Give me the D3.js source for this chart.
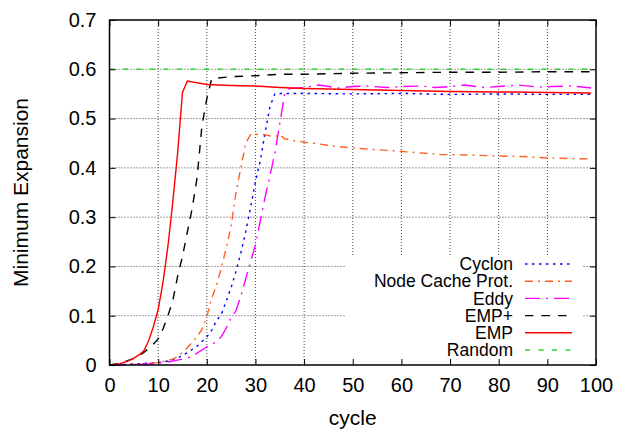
<!DOCTYPE html>
<html>
<head>
<meta charset="utf-8">
<script src="https://cdn.jsdelivr.net/npm/d3@7"></script>
<style>
  body { margin: 0; background: #fff; }
  text { font-family: "Liberation Sans", Arial, sans-serif; fill: #000; }
</style>
</head>
<body>
<div id="chart"></div>
<script>
/** Data: [cycle, minimum expansion] */
var cyclon = [[0,0],[5,0.002],[10,0.005],[12,0.008],[14,0.014],[16,0.025],[18,0.038],[20,0.057],[21,0.07],[22,0.09],[23,0.103],[24,0.13],[25,0.157],[26,0.19],[27,0.228],[28,0.27],[29,0.32],[30,0.372],[31,0.415],[32,0.472],[33,0.525],[34,0.55],[35,0.551],[40,0.551],[50,0.55],[60,0.551],[70,0.549],[80,0.55],[90,0.549],[99,0.549]];
var nodeCache = [[0,0],[4,0.001],[8,0.003],[10,0.005],[12,0.009],[13,0.012],[14,0.017],[15,0.025],[16,0.035],[17,0.046],[18,0.058],[19,0.072],[20,0.098],[21,0.135],[22,0.162],[23,0.197],[24,0.238],[25,0.282],[26,0.35],[27,0.4],[28,0.45],[29,0.468],[30,0.468],[32,0.467],[34,0.463],[35,0.468],[36,0.459],[38,0.455],[40,0.452],[42,0.45],[47,0.443],[53,0.438],[58,0.435],[63,0.431],[68,0.427],[74,0.426],[80,0.424],[85,0.423],[90,0.42],[99,0.418]];
var eddy = [[0,0],[5,0.001],[8,0.002],[12,0.006],[14,0.01],[16,0.014],[18,0.024],[20,0.037],[22,0.047],[23,0.058],[24,0.075],[25,0.096],[26,0.11],[27,0.14],[28,0.175],[29,0.21],[30,0.243],[31,0.293],[32,0.341],[33,0.385],[34,0.43],[35,0.49],[36,0.55],[37,0.561],[40,0.563],[43,0.568],[47,0.562],[50,0.565],[53,0.566],[57,0.563],[60,0.565],[64,0.566],[67,0.563],[70,0.565],[73,0.568],[77,0.563],[80,0.565],[84,0.568],[88,0.564],[91,0.565],[95,0.566],[99,0.562]];
var empPlus = [[0,0],[2,0.003],[4,0.01],[5,0.013],[6,0.018],[7,0.025],[8,0.033],[9,0.042],[10,0.053],[11,0.073],[12,0.1],[13,0.13],[14,0.18],[15,0.22],[16,0.27],[17,0.318],[18,0.38],[19,0.485],[20,0.54],[21,0.581],[25,0.585],[30,0.587],[35,0.59],[40,0.59],[50,0.592],[60,0.593],[70,0.594],[80,0.594],[90,0.595],[99,0.595]];
var emp = [[0,0],[2,0.002],[4,0.009],[5,0.014],[6,0.02],[7,0.028],[8,0.048],[9,0.077],[10,0.112],[11,0.168],[12,0.24],[13,0.33],[14,0.43],[15,0.553],[16,0.576],[20,0.569],[25,0.567],[30,0.566],[35,0.563],[40,0.561],[50,0.559],[60,0.557],[70,0.555],[80,0.554],[90,0.553],[99,0.552]];
var randomGraph = [[0,0.6],[99,0.6]];

var seriesNames = ["Cyclon", "Node Cache Prot.", "Eddy", "EMP+", "EMP", "Random"];
var seriesData = [cyclon, nodeCache, eddy, empPlus, emp, randomGraph];
var xTicks = [0, 10, 20, 30, 40, 50, 60, 70, 80, 90, 100];
var yTicks = [0, 0.1, 0.2, 0.3, 0.4, 0.5, 0.6, 0.7];

/** Styles, one per series */
var seriesColors = ["#0000ff", "#ff6020", "#ff00ff", "#000000", "#ff0000", "#2ddc2d"];
var seriesDashes = ["2.5,4.5", "8,5,2,5", "15,6,2,6", "8.5,8", null, "5,8.5"];

var W = 619, H = 432;
var plotLeft = 109.5, plotRight = 596, plotTop = 20, plotBottom = 365;

var svg = d3.select("#chart").append("svg")
  .attr("width", W)
  .attr("height", H);

var x = d3.scaleLinear().domain([0, 100]).range([plotLeft, plotRight]);
var y = d3.scaleLinear().domain([0, 0.7]).range([plotBottom, plotTop]);

/** Grid */
var grid = svg.append("g");
grid.selectAll(".gx").data(xTicks.slice(1, -1)).enter().append("line")
  .attr("x1", function(d){ return x(d); }).attr("x2", function(d){ return x(d); })
  .attr("y1", plotTop).attr("y2", plotBottom)
  .attr("stroke", "#444").attr("stroke-width", 1).attr("stroke-dasharray", "1,2");
grid.selectAll(".gy").data(yTicks.slice(1, -1)).enter().append("line")
  .attr("x1", plotLeft).attr("x2", plotRight)
  .attr("y1", function(d){ return y(d); }).attr("y2", function(d){ return y(d); })
  .attr("stroke", "#444").attr("stroke-width", 1).attr("stroke-dasharray", "1,2");

/** Legend background hides the grid */
svg.append("rect")
  .attr("x", 345).attr("y", 255).attr("width", 238).attr("height", plotBottom - 255)
  .attr("fill", "#fff");

/** Curves */
var line = d3.line()
  .x(function(d){ return x(d[0]); })
  .y(function(d){ return y(d[1]); });

svg.append("g").selectAll("path").data(seriesData).enter().append("path")
  .attr("d", line)
  .attr("fill", "none")
  .attr("stroke", function(d, i){ return seriesColors[i]; })
  .attr("stroke-width", 1.4)
  .attr("stroke-dasharray", function(d, i){ return seriesDashes[i]; });

/** Axes with inward ticks on all four sides */
svg.append("g").attr("transform", "translate(0," + plotBottom + ")")
  .call(d3.axisBottom(x).tickValues(xTicks).tickSize(-6).tickPadding(13).tickFormat(d3.format("d")));
svg.append("g").attr("transform", "translate(0," + plotTop + ")")
  .call(d3.axisTop(x).tickValues(xTicks).tickSize(-6).tickFormat(""));
svg.append("g").attr("transform", "translate(" + plotLeft + ",0)")
  .call(d3.axisLeft(y).tickValues(yTicks).tickSize(-6).tickPadding(13).tickFormat(function(d){ return d === 0 ? "0" : d3.format(".1f")(d); }));
svg.append("g").attr("transform", "translate(" + plotRight + ",0)")
  .call(d3.axisRight(y).tickValues(yTicks).tickSize(-6).tickFormat(""));

svg.selectAll(".domain").remove();
svg.selectAll(".tick line").attr("stroke", "#000").attr("stroke-width", 1);
svg.selectAll(".tick text").style("font-size", "20px").style("font-family", "Liberation Sans, Arial, sans-serif").attr("fill", "#000");

svg.append("rect")
  .attr("x", plotLeft).attr("y", plotTop).attr("width", plotRight - plotLeft).attr("height", plotBottom - plotTop)
  .attr("fill", "none").attr("stroke", "#000").attr("stroke-width", 1.5);

/** Axis titles */
svg.append("text")
  .attr("x", (plotLeft + plotRight) / 2).attr("y", 425)
  .attr("text-anchor", "middle")
  .style("font-size", "21px")
  .text("cycle");
svg.append("text")
  .attr("transform", "translate(28," + ((plotTop + plotBottom) / 2) + ") rotate(-90)")
  .attr("text-anchor", "middle")
  .style("font-size", "21px")
  .text("Minimum Expansion");

/** Legend */
var legend = svg.append("g").selectAll("g").data(seriesNames).enter().append("g")
  .attr("transform", function(d, i){ return "translate(0," + (264 + i * 17.2) + ")"; });
legend.append("text")
  .attr("x", 513).attr("dy", "0.35em")
  .attr("text-anchor", "end")
  .style("font-size", "17.5px")
  .text(function(d){ return d; });
legend.append("line")
  .attr("x1", 525).attr("x2", 572)
  .attr("stroke", function(d, i){ return seriesColors[i]; })
  .attr("stroke-width", 1.4)
  .attr("stroke-dasharray", function(d, i){ return seriesDashes[i]; });
</script>
</body>
</html>
